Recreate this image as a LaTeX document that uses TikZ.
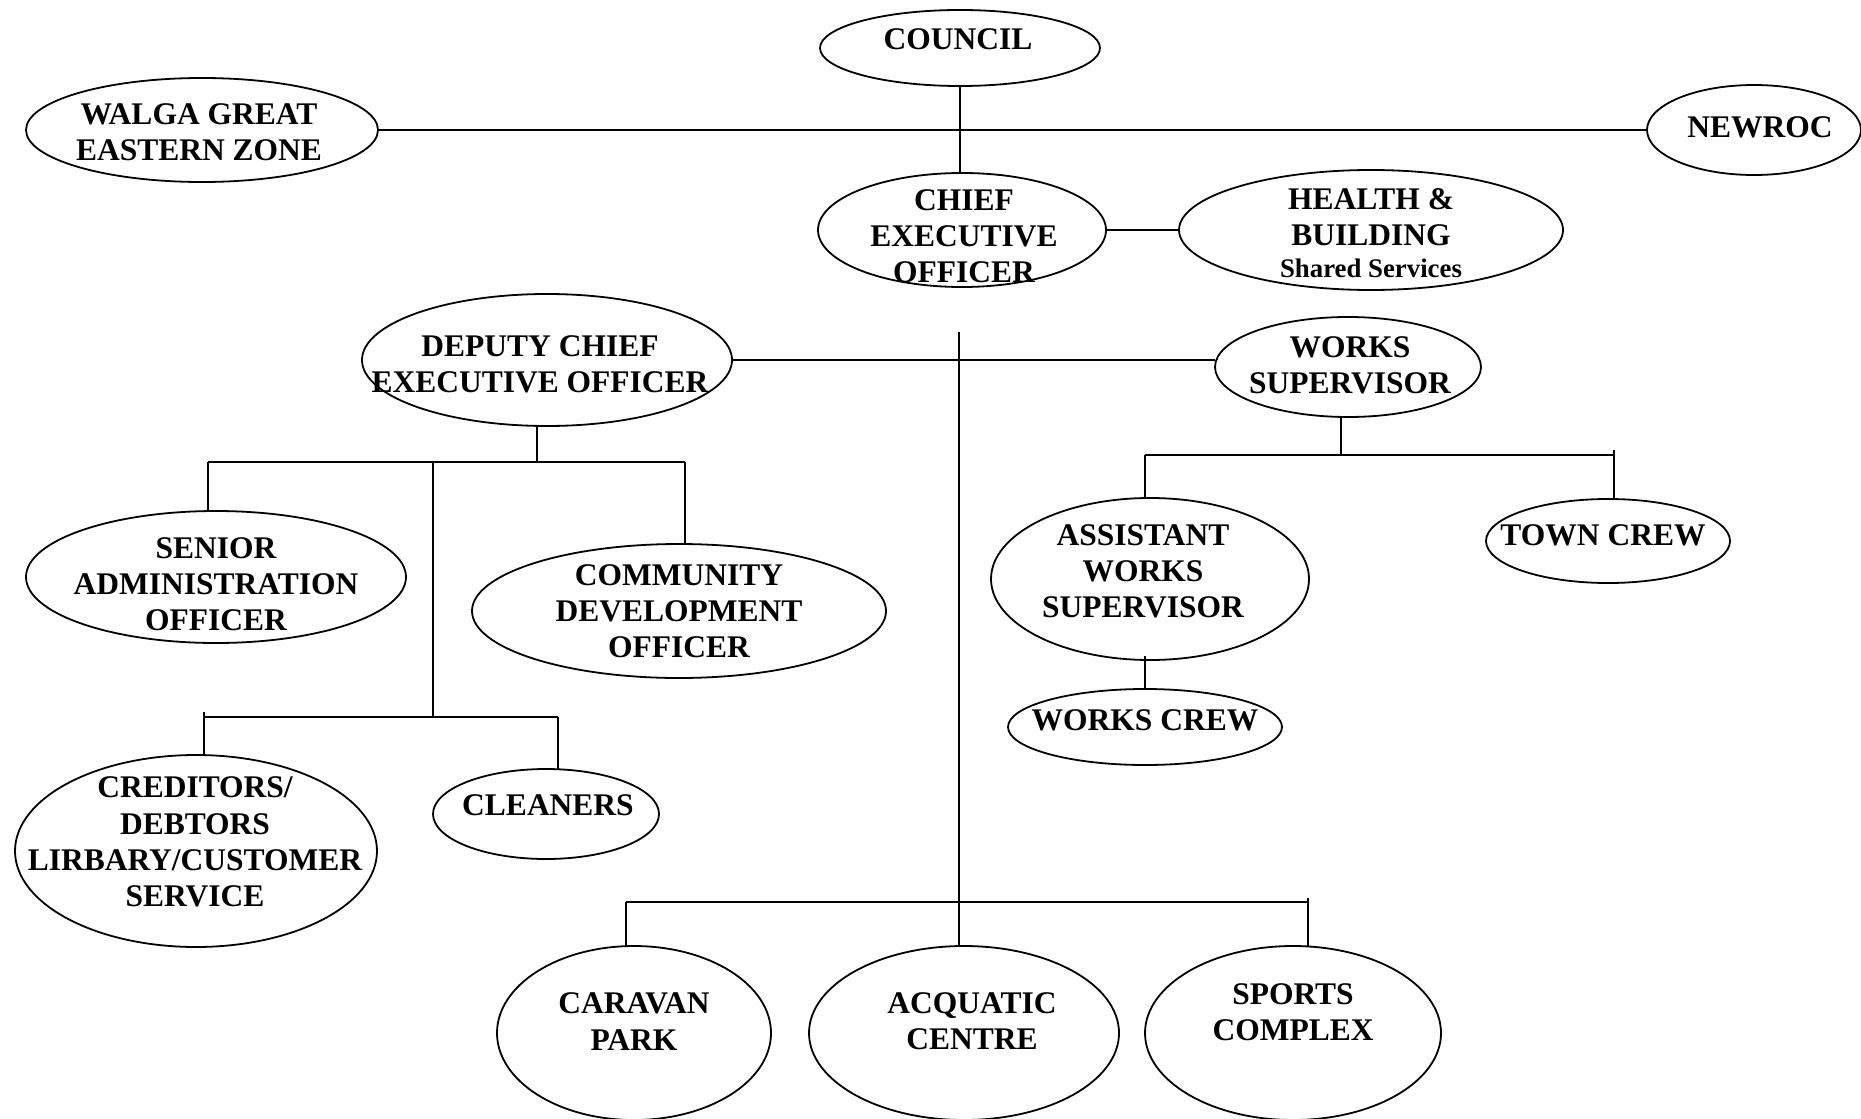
\documentclass[tikz,border=0pt]{standalone}
\usepackage{fontspec}
\setmainfont{Liberation Serif}
\usetikzlibrary{shapes.geometric}
\tikzset{
  org/.style={draw, ellipse, line width=0.9pt, inner sep=0pt, outer sep=0pt},
  lbl/.style={align=center, inner sep=0pt, font=\fontsize{15.75}{18.1}\selectfont\bfseries},
  conn/.style={line width=0.9pt}
}
\begin{document}
\begin{tikzpicture}[x=0.5pt, y=-0.5pt]
\fill[white] (0,0) rectangle (1861,1118);
\useasboundingbox (0,0) rectangle (1861,1118);

% ellipses
\node[org, minimum width=140pt, minimum height=38pt] (council) at (960,48) {};
\node[org, minimum width=176pt, minimum height=52pt] (walga) at (202,130) {};
\node[org, minimum width=107pt, minimum height=45pt] (newroc) at (1754,130) {};
\node[org, minimum width=144pt, minimum height=57pt] (ceo) at (962,230) {};
\node[org, minimum width=192pt, minimum height=60pt] (health) at (1371,230) {};
\node[org, minimum width=185pt, minimum height=66pt] (dceo) at (547,360) {};
\node[org, minimum width=133pt, minimum height=50pt] (ws) at (1348,367) {};
\node[org, minimum width=190pt, minimum height=66pt] (sao) at (216,577) {};
\node[org, minimum width=207pt, minimum height=67pt] (cdo) at (679,611) {};
\node[org, minimum width=181pt, minimum height=96pt] (cred) at (196,851) {};
\node[org, minimum width=113pt, minimum height=45pt] (clean) at (546,814) {};
\node[org, minimum width=159pt, minimum height=81pt] (aws) at (1150,579) {};
\node[org, minimum width=137pt, minimum height=38pt] (wc) at (1145,727) {};
\node[org, minimum width=122pt, minimum height=42pt] (town) at (1608,541) {};
\node[org, minimum width=137pt, minimum height=87pt] (car) at (634,1033) {};
\node[org, minimum width=155pt, minimum height=87pt] (acq) at (964,1033) {};
\node[org, minimum width=148pt, minimum height=87pt] (sports) at (1293,1033) {};

% connectors
\draw[conn] (council.south) -- (council.south |- ceo.north);
\draw[conn] (walga) -- (newroc);
\draw[conn] (ceo) -- (health);
\draw[conn] (dceo.east) -- (dceo.east -| ws.west);
\coordinate (vtop) at (959,332);
\draw[conn] (vtop) -- (vtop |- acq.north);

% deputy branch
\coordinate (dbar) at (537,462);
\coordinate (dL) at (208,462);
\coordinate (dR) at (685,462);
\coordinate (dM) at (433,462);
\coordinate (lbar) at (433,717);
\coordinate (lL) at (204,717);
\coordinate (lR) at (558,717);
\draw[conn] (dceo.south -| dbar) -- (dbar);
\draw[conn] (dL) -- (dR);
\draw[conn] (dL) -- (dL |- sao.north);
\draw[conn] (dR) -- (dR |- cdo.north);
\draw[conn] (dM) -- (lbar);
\draw[conn] (lL) -- (lR);
\draw[conn] ([yshift=2.5pt]lL) -- (lL |- cred.north);
\draw[conn] (lR) -- (lR |- clean.north);

% works branch
\coordinate (wbar) at (1341,455);
\coordinate (wL) at (1145,455);
\coordinate (wR) at (1614,455);
\draw[conn] (ws.south -| wbar) -- (wbar);
\draw[conn] (wL) -- (wR);
\draw[conn] (wL) -- (wL |- aws.north);
\draw[conn] ([yshift=2.5pt]wR) -- (wR |- town.north);
\draw[conn] ([yshift=2pt]wc.north |- aws.south) -- (wc.north);

% bottom branch
\coordinate (bL) at (626,902);
\coordinate (bR) at (1308,902);
\draw[conn] (bL) -- (bR);
\draw[conn] (bL) -- (bL |- car.north);
\draw[conn] ([yshift=2pt]bR) -- (bR |- sports.north);

% labels
\node[lbl] (t-council) at (958,39) {COUNCIL};
\node[lbl] (t-walga) at (199,132.5) {WALGA GREAT\\EASTERN ZONE};
\node[lbl] (t-newroc) at (1760,127) {NEWROC};
\node[lbl] (t-ceo) at (964,236) {CHIEF\\EXECUTIVE\\OFFICER};
\node[lbl] (t-health) at (1371,233) {HEALTH \&\\BUILDING\\[-2pt]{\fontsize{13.4}{15}\selectfont Shared Services}};
\node[lbl] (t-dceo) at (540,364) {DEPUTY CHIEF\\EXECUTIVE OFFICER};
\node[lbl] (t-ws) at (1350,365) {WORKS\\SUPERVISOR};
\node[lbl] (t-sao) at (216,584.5) {SENIOR\\ADMINISTRATION\\OFFICER};
\node[lbl] (t-cdo) at (679,611) {COMMUNITY\\DEVELOPMENT\\OFFICER};
\node[lbl] (t-cred) at (195,842) {CREDITORS/\\DEBTORS\\LIRBARY/CUSTOMER\\SERVICE};
\node[lbl] (t-clean) at (548,805) {CLEANERS};
\node[lbl] (t-aws) at (1143,571.5) {ASSISTANT\\WORKS\\SUPERVISOR};
\node[lbl] (t-wc) at (1145,720) {WORKS CREW};
\node[lbl] (t-town) at (1603,535) {TOWN CREW};
\node[lbl] (t-car) at (634,1021.5) {CARAVAN\\PARK};
\node[lbl] (t-acq) at (972,1021.5) {ACQUATIC\\CENTRE};
\node[lbl] (t-sports) at (1293,1012) {SPORTS\\COMPLEX};
\end{tikzpicture}
\end{document}
